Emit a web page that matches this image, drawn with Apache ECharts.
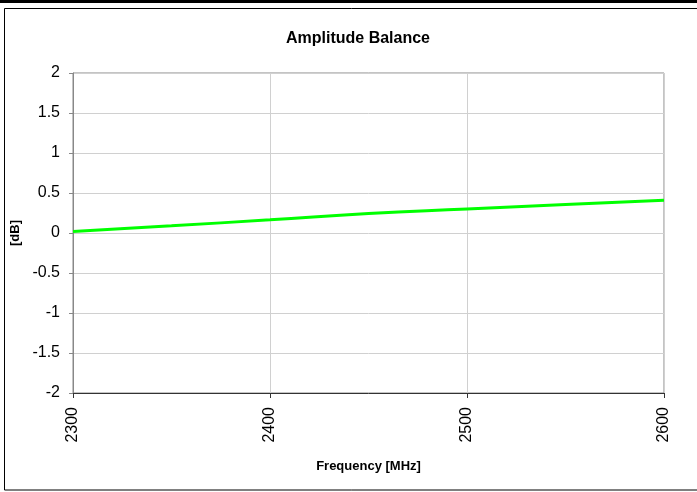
<!DOCTYPE html>
<html>
<head>
<meta charset="utf-8">
<script src="https://cdn.jsdelivr.net/npm/echarts@6/dist/echarts.min.js"></script>
<style>html,body{margin:0;padding:0;background:#fff;}#c{width:697px;height:492px;}</style>
</head>
<body>
<div id="c"></div>
<script>
var frequencies = [2300, 2350, 2400, 2450, 2500, 2550, 2600];
var balanceDb = [0.02, 0.09, 0.165, 0.245, 0.30, 0.355, 0.41];
var xTicks = [2300, 2400, 2500, 2600];
var yTicks = [-2, -1.5, -1, -0.5, 0, 0.5, 1, 1.5, 2];

var font = '"Liberation Sans", Arial, sans-serif';
var chart = echarts.init(document.getElementById('c'), null, {renderer: 'canvas'});
chart.setOption({
  animation: false,
  backgroundColor: '#fff',
  title: {
    text: 'Amplitude Balance',
    left: 353, top: 26, textAlign: 'center',
    textStyle: {fontFamily: font, fontSize: 16, fontWeight: 'bold', color: '#000'}
  },
  graphic: [
    {type: 'rect', shape: {x: 0, y: 0, width: 697, height: 3}, style: {fill: '#000'}, silent: true},
    {type: 'rect', shape: {x: 4.5, y: 8.5, width: 720, height: 481.5}, style: {fill: 'none', stroke: '#000', lineWidth: 1}, silent: true}
  ],
  grid: {left: 73, top: 73, right: 33, bottom: 99, show: true, borderColor: '#888', borderWidth: 1},
  xAxis: {
    type: 'value', min: xTicks[0], max: xTicks[xTicks.length - 1], interval: 100,
    name: 'Frequency [MHz]', nameLocation: 'middle', nameGap: 67,
    nameTextStyle: {fontFamily: font, fontSize: 13, fontWeight: 'bold', color: '#000'},
    axisLine: {show: true, onZero: false, lineStyle: {color: '#333', width: 1}},
    axisTick: {show: true, length: 5, inside: false, lineStyle: {color: '#333'}},
    axisLabel: {rotate: 90, margin: 14, fontFamily: font, fontSize: 16, color: '#000',
      formatter: function (v) { return String(v); }},
    splitLine: {show: true, lineStyle: {color: '#d0d0d0', width: 1}}
  },
  yAxis: {
    type: 'value', min: yTicks[0], max: yTicks[yTicks.length - 1], interval: 0.5,
    name: '[dB]', nameLocation: 'middle', nameGap: 47, nameRotate: 90,
    nameTextStyle: {fontFamily: font, fontSize: 13, fontWeight: 'bold', color: '#000'},
    axisLine: {show: true, lineStyle: {color: '#888', width: 1}},
    axisTick: {show: true, length: 4, lineStyle: {color: '#888'}},
    axisLabel: {margin: 13, fontFamily: font, fontSize: 16, color: '#000'},
    splitLine: {show: true, lineStyle: {color: '#d0d0d0', width: 1}}
  },
  series: [{
    type: 'line',
    data: frequencies.map(function (f, i) { return [f, balanceDb[i]]; }),
    showSymbol: false, symbol: 'none', smooth: true,
    lineStyle: {color: '#00ff00', width: 3}
  }]
});
</script>
</body>
</html>
